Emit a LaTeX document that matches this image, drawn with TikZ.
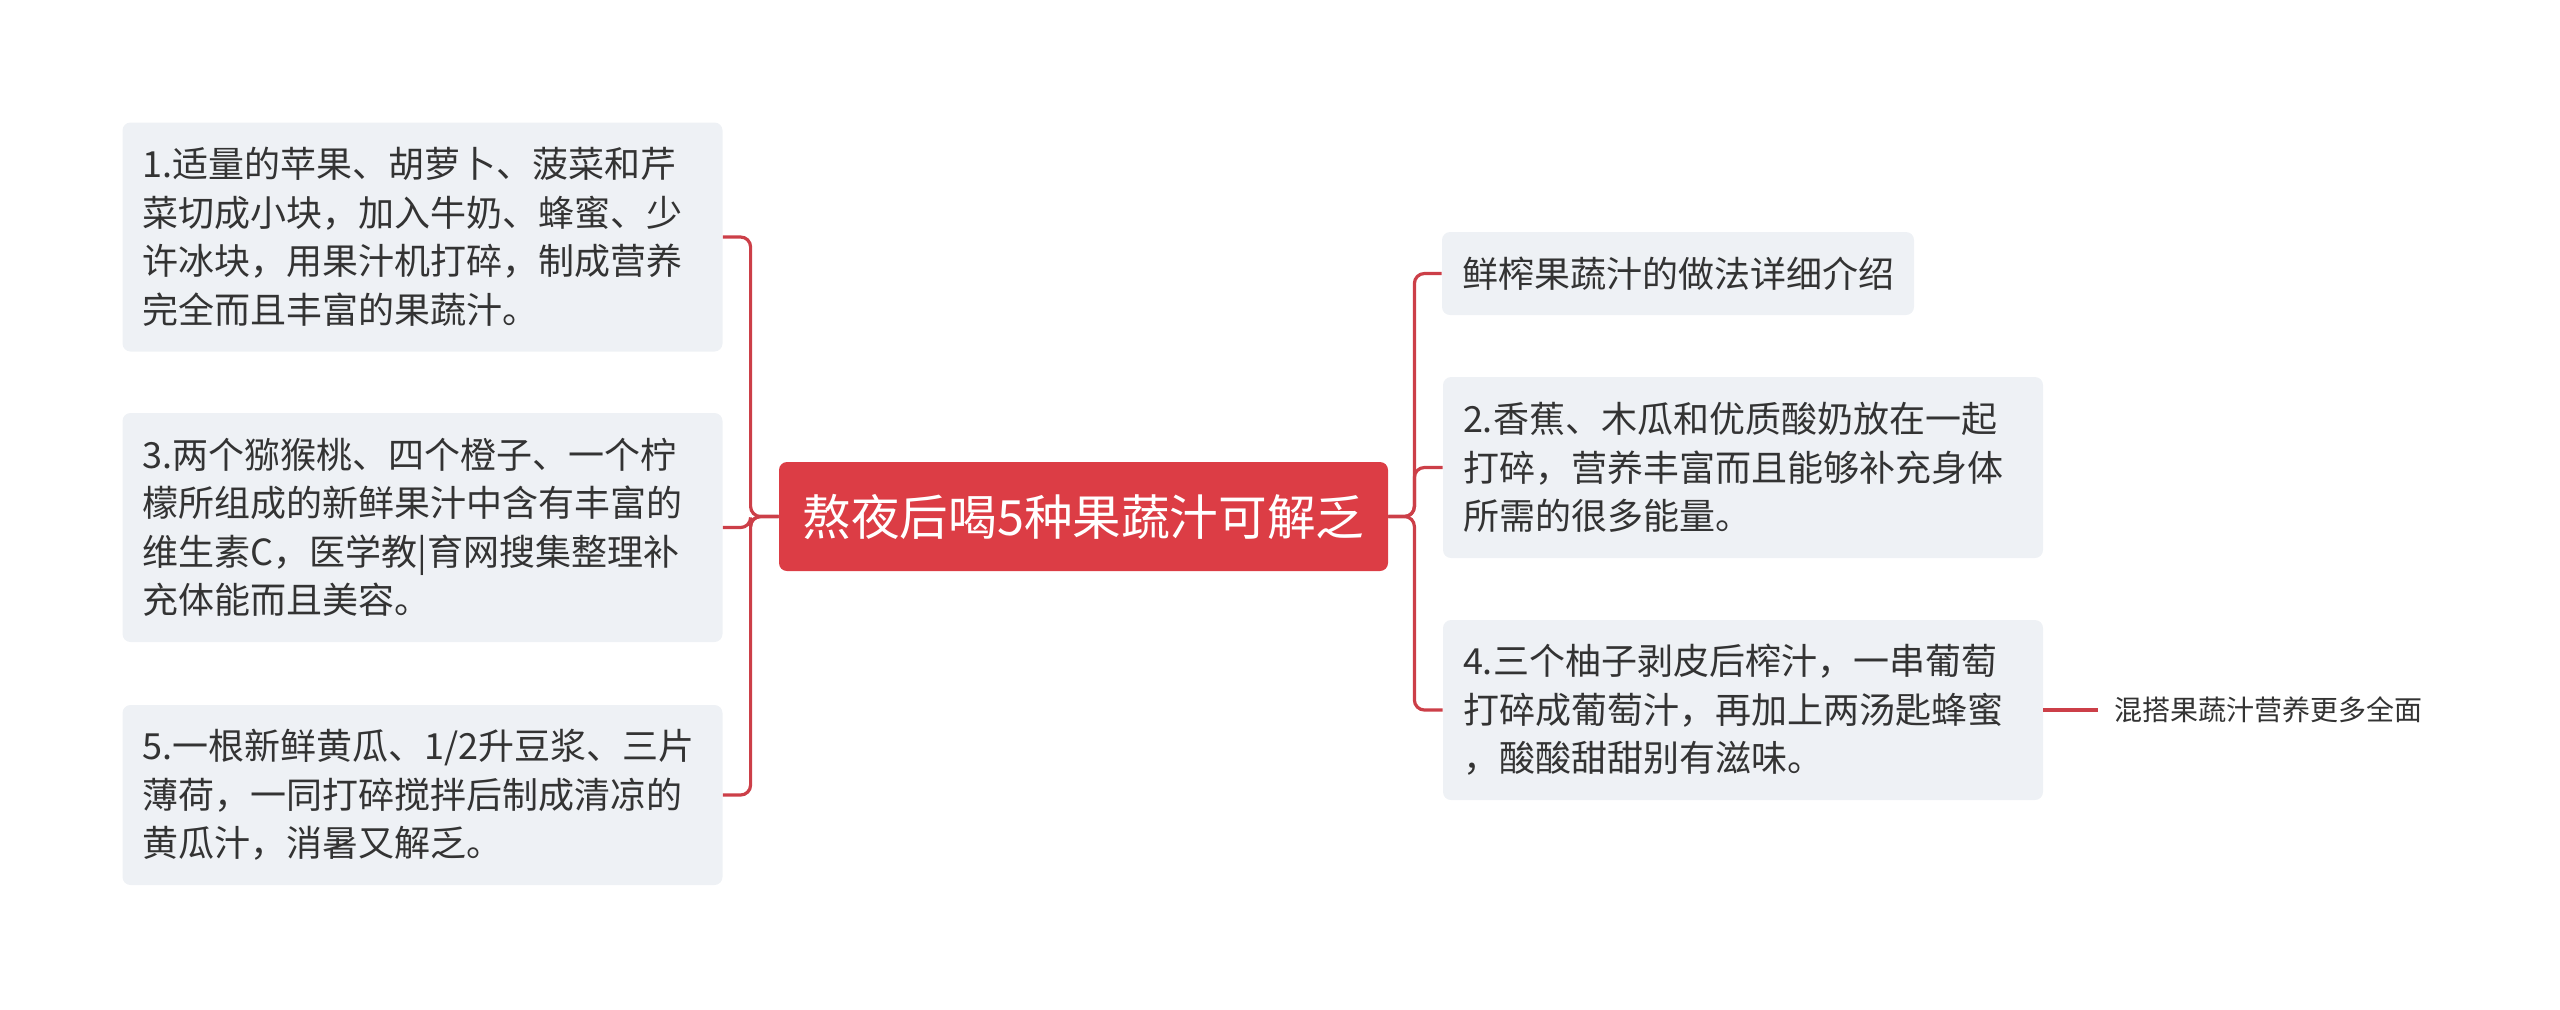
\documentclass[tikz,border=0pt]{standalone}
\usepackage{fontspec}
\setmainfont{Noto Sans CJK SC}
\definecolor{rootred}{HTML}{DC3D45}
\definecolor{linkred}{HTML}{CC3F48}
\definecolor{boxgray}{HTML}{EEF1F5}
\definecolor{txtgray}{HTML}{333333}
\tikzset{
  topic/.style={fill=rootred, rounded corners=4pt, text=white, minimum width=304.5pt,
    minimum height=54.5pt, inner sep=0pt, font=\fontsize{24.3pt}{30pt}\selectfont},
  item/.style={fill=boxgray, rounded corners=4pt, text=txtgray, align=left,
    text width=280pt, inner xsep=10pt, inner ysep=0pt,
    font=\fontsize{18pt}{24.25pt}\selectfont},
  leaf/.style={text=txtgray, inner xsep=8pt, font=\fontsize{14pt}{18pt}\selectfont},
  link/.style={draw=linkred, line width=1.6pt, rounded corners=5pt}
}
\begin{document}
\begin{tikzpicture}[x=1pt,y=1pt]
\useasboundingbox (0,0) rectangle (1280,-504.5);
\node[topic] (root) at (541.75,-258.25) {熬夜后喝5种果蔬汁可解乏};
% left side
\node[item, minimum height=114.5pt] (s1) at (211.25,-118.5)
  {1.适量的苹果、胡萝卜、菠菜和芹\\菜切成小块，加入牛奶、蜂蜜、少\\许冰块，用果汁机打碎，制成营养\\完全而且丰富的果蔬汁。};
\node[item, minimum height=114.5pt] (s3) at (211.25,-263.75)
  {3.两个猕猴桃、四个橙子、一个柠\\檬所组成的新鲜果汁中含有丰富的\\维生素C，医学教|育网搜集整理补\\充体能而且美容。};
\node[item, minimum height=90pt] (s5) at (211.25,-397.5)
  {5.一根新鲜黄瓜、1/2升豆浆、三片\\薄荷，一同打碎搅拌后制成清凉的\\黄瓜汁，消暑又解乏。};
% right side
\node[item, text width=216pt, minimum height=41.5pt] (s0) at (839,-136.75)
  {鲜榨果蔬汁的做法详细介绍};
\node[item, minimum height=90.5pt] (s2) at (871.5,-233.75)
  {2.香蕉、木瓜和优质酸奶放在一起\\打碎，营养丰富而且能够补充身体\\所需的很多能量。};
\node[item, minimum height=90pt] (s4) at (871.5,-355)
  {4.三个柚子剥皮后榨汁，一串葡萄\\打碎成葡萄汁，再加上两汤匙蜂蜜\\，酸酸甜甜别有滋味。};
\node[leaf, anchor=west] (t4) at (1049,-355) {混搭果蔬汁营养更多全面};
\draw[link] (root.west) -- ++(-14,0) |- (s1.east);
\draw[link] (root.west) -- ++(-14,0) |- (s3.east);
\draw[link] (root.west) -- ++(-14,0) |- (s5.east);
\draw[link] (root.east) -- ++(13,0) |- (s0.west);
\draw[link] (root.east) -- ++(13,0) |- (s2.west);
\draw[link] (root.east) -- ++(13,0) |- (s4.west);
\draw[link] (s4.east) -- (t4.west);
\end{tikzpicture}
\end{document}
